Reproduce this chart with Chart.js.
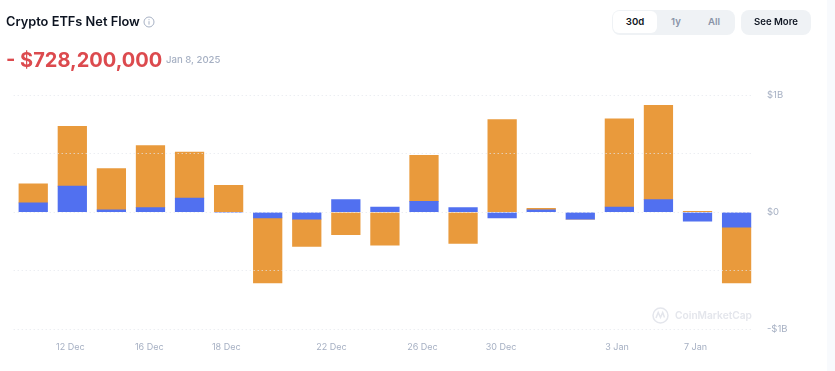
<!DOCTYPE html>
<html>
<head>
<meta charset="utf-8">
<title>Crypto ETFs Net Flow</title>
<script src="https://cdn.jsdelivr.net/npm/chart.js@4"></script>
<style>
  html, body { margin:0; padding:0; background:#fff; overflow:hidden; }
  body { width:835px; height:371px; position:relative; font-family:Inter, sans-serif; }
  .strip { position:absolute; left:827px; top:0; width:8px; height:371px; background:#f8fafd; }
  .abs { position:absolute; white-space:nowrap; line-height:1; }
  #title { left:6px; top:16px; font-size:12.8px; font-weight:600; color:#0d1421; }
  #info { left:143px; top:16px; }
  #value { left:6px; top:50px; font-size:20px; font-weight:700; color:#dc4a4e; }
  #date { left:166px; top:55px; font-size:9.6px; font-weight:500; color:#a6b0c3; }
  #range { left:612px; top:10px; width:123px; height:25px; background:#eff2f5; border-radius:8px; }
  #active { left:613px; top:11px; width:44px; height:22px; background:#fff; border-radius:6px; }
  .btn { top:17px; font-size:9.6px; font-weight:600; color:#8a94a8; transform:translateX(-50%); }
  #more { left:741px; top:10px; width:70px; height:25px; background:#eff2f5; border-radius:8px; }
  #moreText { left:776px; top:17px; font-size:9.6px; font-weight:600; color:#0d1421; transform:translateX(-50%); }
  #logo { left:652px; top:307px; }
  #mark { left:675px; top:310px; font-size:10.2px; font-weight:600; color:#e4e6ec; }
  canvas { position:absolute; left:0; top:0; }
</style>
</head>
<body>
<div class="strip"></div>
<canvas id="flowChart" width="827" height="371"></canvas>
<div class="abs" id="title">Crypto ETFs Net Flow</div>
<svg class="abs" id="info" width="12" height="12" viewBox="0 0 12 12"><circle cx="6" cy="6" r="5" fill="none" stroke="#a6b0c3"/><path d="M6 5.2v3.4M6 3.2v1" stroke="#a6b0c3" fill="none"/></svg>
<div class="abs" id="value">- $728,200,000</div>
<div class="abs" id="date">Jan 8, 2025</div>
<div class="abs" id="range"></div>
<div class="abs" id="active"></div>
<div class="abs btn" style="left:635px;color:#0d1421">30d</div>
<div class="abs btn" style="left:676px">1y</div>
<div class="abs btn" style="left:714px">All</div>
<div class="abs" id="more"></div>
<div class="abs" id="moreText">See More</div>
<svg class="abs" id="logo" width="17" height="17" viewBox="0 0 17 17"><circle cx="8.5" cy="8.5" r="7.5" fill="none" stroke="#e4e6ec" stroke-width="1.5"/><path d="M4 11l2.2-5.5L8.5 10.500l2.200-5 1.800 5" fill="none" stroke="#e4e6ec" stroke-width="1.500"/></svg>
<div class="abs" id="mark">CoinMarketCap</div>
<script>
// weekdays only, so the bars are evenly spaced by index
const dates = ['11 Dec','12 Dec','13 Dec','16 Dec','17 Dec','18 Dec','19 Dec','20 Dec','23 Dec','24 Dec','26 Dec','27 Dec','30 Dec','31 Dec','2 Jan','3 Jan','6 Jan','7 Jan','8 Jan'];

// $ billions
const btcFlow = [0.08, 0.223, 0.02, 0.04, 0.121, 0, -0.048, -0.059, 0.107, 0.045, 0.093, 0.04, -0.048, 0.02, -0.06, 0.045, 0.107, -0.076, -0.127];
const ethFlow = [0.163, 0.509, 0.353, 0.528, 0.393, 0.229, -0.554, -0.232, -0.192, -0.28, 0.393, -0.266, 0.791, 0.014, 0, 0.752, 0.805, 0.008, -0.475];

const tickSlots = [0.95, 2.97, 4.94, 7.63, 9.96, 11.97, 14.94, 16.95];
const tickLabels = ['12 Dec','16 Dec','18 Dec','22 Dec','26 Dec','30 Dec','3 Jan','7 Jan'];
const yTicks = [-1, -0.5, 0, 0.5, 1];
const yLabels = { '-1':'-$1B', '0':'$0', '1':'$1B' };

const points = arr => arr.map((v, i) => ({ x: i, y: v }));

new Chart(document.getElementById('flowChart'), {
    type: 'bar',
    data: {
        datasets: [
            { label:'BTC', data:points(btcFlow), backgroundColor:'#5170f0', barThickness:28.6, borderWidth:0 },
            { label:'ETH', data:points(ethFlow), backgroundColor:'#e99a3c', barThickness:28.6, borderWidth:0 }
        ]
    },
    options: {
        responsive:false,
        animation:false,
        layout:{ padding:{ top:95, left:13.7 } },
        plugins:{ legend:{ display:false }, tooltip:{ enabled:false } },
        scales:{
            x:{
                type:'linear', stacked:true, offset:false, min:-0.5, max:18.42,
                grid:{ display:false }, border:{ display:false },
                afterBuildTicks: s => { s.ticks = tickSlots.map(v => ({ value:v })); },
                afterFit: s => { s.height = 41.5; },
                ticks:{
                    autoSkip:false, maxRotation:0, padding:4, color:'#a6b0c3',
                    font:{ family:'Inter', size:9 },
                    callback: v => tickLabels[tickSlots.indexOf(v)]
                }
            },
            y:{
                position:'right', stacked:true, min:-1, max:1,
                grid:{ z:1, color:'#e4e7ed', drawTicks:false, tickLength:0 },
                border:{ display:false, dash:[1,3] },
                afterBuildTicks: s => { s.ticks = yTicks.map(v => ({ value:v })); },
                afterFit: s => { s.width = 74; },
                ticks:{
                    align:'center', crossAlign:'near', padding:14, color:'#a6b0c3',
                    font:{ family:'Inter', size:9.5 },
                    callback: v => yLabels[v] || ''
                }
            }
        }
    }
});
</script>
</body>
</html>
